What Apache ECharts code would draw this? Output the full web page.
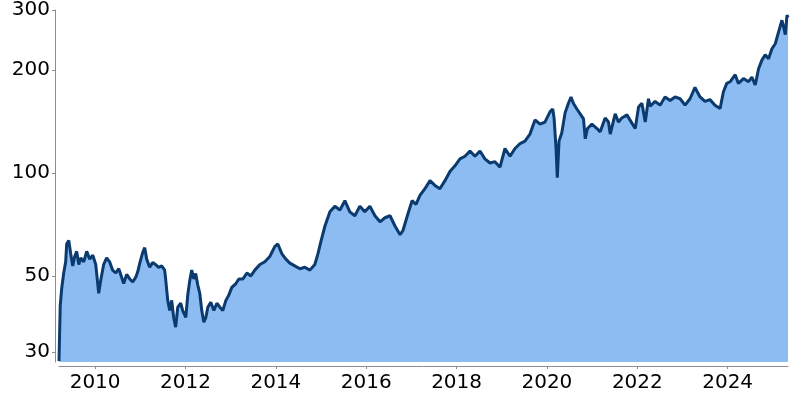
<!DOCTYPE html>
<html>
<head>
<meta charset="utf-8">
<script src="https://cdn.jsdelivr.net/npm/echarts@6/dist/echarts.min.js"></script>
<style>html,body{margin:0;padding:0;background:#fff;}#c{width:800px;height:400px;}</style>
</head>
<body>
<div id="c"></div>
<script>
const dates = [
'2009-03-15','2009-03-25','2009-04-06','2009-04-22','2009-05-08','2009-05-16','2009-06-02','2009-06-18','2009-07-04','2009-07-20',
'2009-08-05','2009-08-22','2009-09-07','2009-10-01','2009-10-25','2009-11-18','2009-12-13','2010-01-06','2010-01-30','2010-02-15',
'2010-03-11','2010-04-04','2010-04-28','2010-05-22','2010-06-17','2010-07-11','2010-08-04','2010-08-20','2010-09-13','2010-10-08',
'2010-11-01','2010-11-25','2010-12-12','2010-12-28','2011-01-21','2011-02-06','2011-02-22','2011-03-18','2011-04-11','2011-05-05',
'2011-05-30','2011-06-23','2011-07-17','2011-07-25','2011-08-11','2011-08-27','2011-09-12','2011-09-28','2011-10-14','2011-10-31',
'2011-11-24','2011-12-10','2012-01-04','2012-01-20','2012-02-05','2012-02-21','2012-03-08','2012-03-24','2012-04-10','2012-04-26',
'2012-05-12','2012-05-29','2012-06-14','2012-06-30','2012-07-24','2012-08-18','2012-09-11','2012-10-05','2012-10-29','2012-11-23',
'2012-12-17','2013-01-10','2013-02-12','2013-03-08','2013-04-10','2013-05-12','2013-06-13','2013-07-15','2013-08-25','2013-10-04',
'2013-11-13','2013-12-24','2014-01-17','2014-02-19','2014-03-23','2014-04-24','2014-06-03','2014-07-14','2014-08-23','2014-10-03',
'2014-11-12','2014-12-07','2014-12-31','2015-02-02','2015-03-14','2015-04-23','2015-06-03','2015-07-13','2015-08-22','2015-10-02',
'2015-11-11','2015-12-21','2016-01-31','2016-03-12','2016-04-22','2016-06-01','2016-07-12','2016-08-21','2016-10-01','2016-10-25',
'2016-12-04','2017-01-06','2017-02-07','2017-03-11','2017-04-20','2017-05-31','2017-07-10','2017-08-19','2017-09-29','2017-11-08',
'2017-12-19','2018-01-28','2018-03-10','2018-04-19','2018-05-30','2018-07-09','2018-08-18','2018-09-28','2018-11-07','2018-12-18',
'2019-01-27','2019-03-09','2019-04-18','2019-05-29','2019-07-08','2019-08-17','2019-09-27','2019-11-06','2019-12-16','2020-01-26',
'2020-02-17','2020-02-28','2020-03-15','2020-03-25','2020-04-08','2020-04-30','2020-05-27','2020-06-23','2020-07-14','2020-08-02',
'2020-08-30','2020-09-26','2020-10-23','2020-11-06','2020-11-24','2020-12-30','2021-02-09','2021-03-07','2021-04-16','2021-05-13',
'2021-05-27','2021-07-06','2021-08-02','2021-08-29','2021-10-09','2021-11-18','2021-12-15','2022-01-11','2022-02-07','2022-03-06',
'2022-04-01','2022-04-15','2022-05-25','2022-07-04','2022-08-13','2022-09-23','2022-11-02','2022-12-13','2023-01-22','2023-03-03',
'2023-04-12','2023-05-23','2023-07-02','2023-08-11','2023-09-21','2023-11-01','2023-11-28','2023-12-25','2024-01-21','2024-03-02',
'2024-03-28','2024-05-08','2024-06-18','2024-07-15','2024-08-11','2024-09-07','2024-10-04','2024-10-31','2024-11-27','2024-12-24',
'2025-01-20','2025-02-16','2025-03-15','2025-03-28','2025-04-11','2025-04-25','2025-05-03'
];
const prices = [
28.2,41,46,51,55,62,63.5,58,53.5,57,
59,54,56.5,55,59,56,57.5,54,44.5,48.5,
54,56.5,55,52,51,52.5,49.5,47.5,50.5,49,
48,49.5,51.5,54.5,58.6,60.5,56,53,54.7,54,
53,53.5,52,49,42.4,39.6,42.4,37.8,35.4,40.5,
41.6,39.6,37.8,44,48.5,52,49,50.8,47,44.5,
39.6,36.6,37.8,40.5,41.9,39.6,41.6,40.5,39.6,42.4,
44,46.3,47.5,49,49,51,50,52,54,55,
57,61,62,58,56,54.5,53.5,52.5,53,52,
54,58,63,70,77,80,78,83,77,75,
80,77,80,75,72,74,75,70,66,68,
76,83,81,86,90,95,92,90,95,101,
105,110,112,116,112,116,110,107,108,104,
118,112,118,122,124,130,143,139,141,151,
154,145,118,97,124,131,150,160,167,160,
154,149,144,126,135,139,135,132,145,141,
130,149,141,145,148,140,135,156,160,141,
165,157,162,158,167,163,167,165,158,165,
178,167,162,164,158,154.5,173,183,185,194,
183,189,185,191,181,202,214,222,216,231,
239,259,280,268,254,290,285
];
const yTicks = [30, 50, 100, 200, 300];
const yMin = 28, yMax = 300;
const xTickYears = [2010, 2012, 2014, 2016, 2018, 2020, 2022, 2024];

const toTime = d => Date.parse(d + 'T00:00:00Z');
const seriesData = dates.map((d, i) => [toTime(d), prices[i]]);
const xTicks = xTickYears.map(y => Date.UTC(y, 0, 1));
const font = 'DejaVu Sans';
const axisGray = '#8c8c8c';

const chart = echarts.init(document.getElementById('c'), null, {renderer: 'canvas'});
chart.setOption({
  animation: false,
  grid: {left: 59, right: 12, top: 8, bottom: 38, containLabel: false},
  xAxis: {
    type: 'value',
    min: toTime(dates[0]),
    max: toTime(dates[dates.length - 1]),
    offset: 4,
    axisLine: {show: true, lineStyle: {color: axisGray, width: 1}},
    axisTick: {show: true, customValues: xTicks, length: 3, lineStyle: {color: axisGray}},
    axisLabel: {
      customValues: xTicks,
      formatter: v => String(new Date(v).getUTCFullYear()),
      fontFamily: font, fontSize: 20, color: '#000', margin: 7
    },
    splitLine: {show: false}
  },
  yAxis: {
    type: 'log',
    logBase: 10,
    min: yMin,
    max: yMax,
    offset: 4,
    axisLine: {show: true, lineStyle: {color: axisGray, width: 1}},
    axisTick: {show: true, customValues: yTicks, length: 3, lineStyle: {color: axisGray}},
    axisLabel: {
      customValues: yTicks,
      formatter: v => String(Math.round(v)),
      fontFamily: font, fontSize: 20, color: '#000', margin: 5
    },
    splitLine: {show: false}
  },
  series: [{
    type: 'line',
    data: seriesData,
    showSymbol: false,
    lineStyle: {color: '#0b3b6e', width: 3},
    areaStyle: {color: '#8cbcf1', opacity: 1, origin: 'start'},
    itemStyle: {color: '#0b3b6e'}
  }]
});
</script>
</body>
</html>
